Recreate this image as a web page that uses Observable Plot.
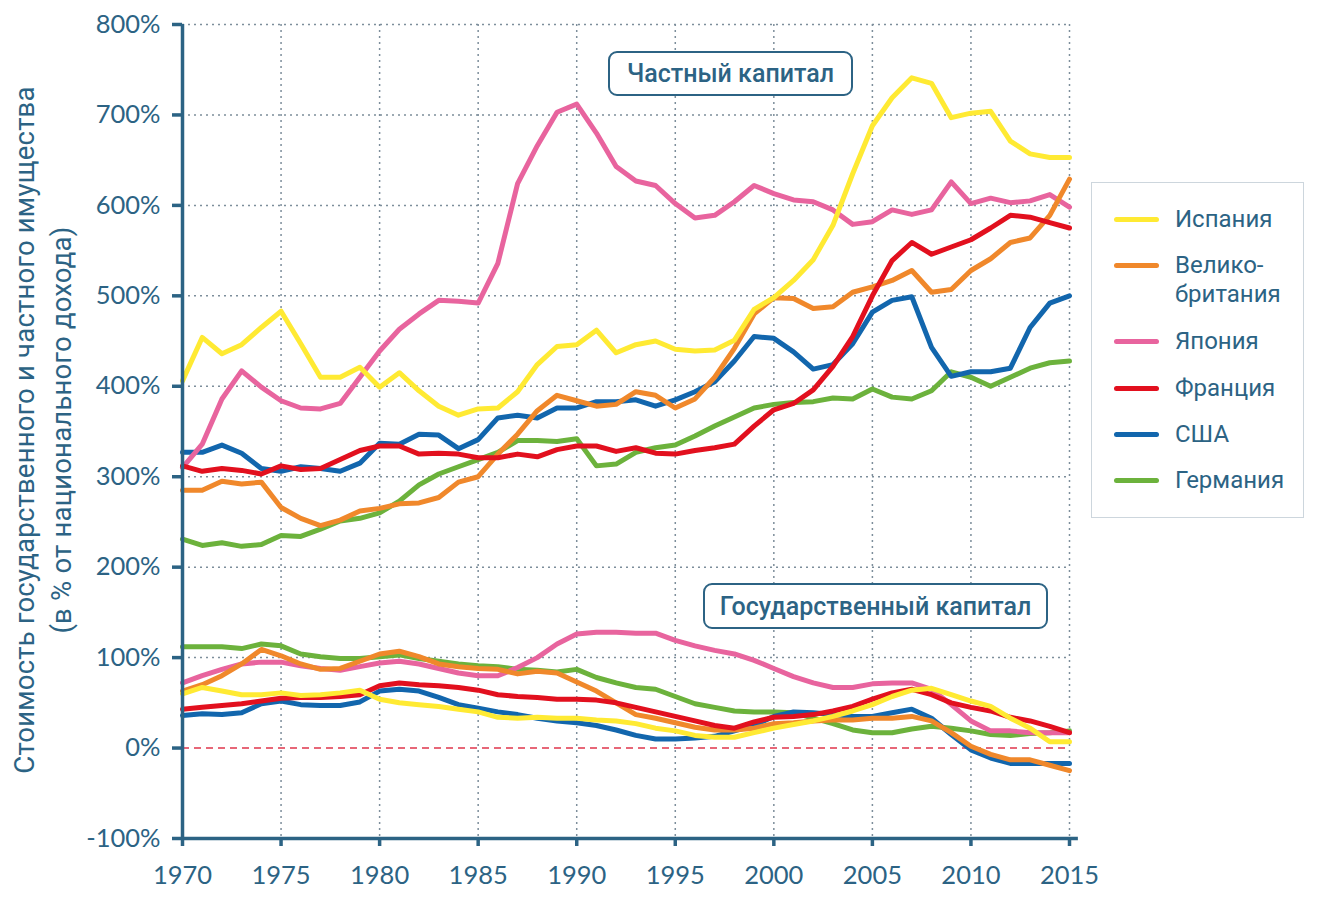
<!DOCTYPE html>
<html>
<head>
<meta charset="utf-8">
<script src="https://cdn.jsdelivr.net/npm/d3@7"></script>
<script src="https://cdn.jsdelivr.net/npm/@observablehq/plot@0.6"></script>
<style>
  html, body { margin:0; padding:0; background:#fff; }
  #wrap { position:relative; width:1326px; height:900px; overflow:hidden; }
  #chart svg { display:block; }
  .ylabel { position:absolute; left:43px; top:430px; transform:translate(-50%,-50%) rotate(-90deg);
    font-family:Roboto, "Noto Sans", sans-serif; font-size:27.5px; line-height:37px; color:#2c6384;
    text-align:center; white-space:nowrap; letter-spacing:0.2px; }
  .legend { position:absolute; left:1091px; top:182px; width:213px; height:336px; border:1.5px solid #cdd6dd;
    background:#fff; box-sizing:border-box; font-family:Roboto, "Noto Sans", sans-serif; font-size:24px; color:#2c6384; }
  .item { position:absolute; left:0; width:100%; }
  .sw { position:absolute; left:22px; width:45px; height:5px; border-radius:3px; }
  .lab { position:absolute; left:83px; line-height:29px; white-space:nowrap; }
  .anno { position:absolute; box-sizing:border-box; border:2px solid #2c6384; border-radius:9px; background:#fff;
    font-family:Roboto, "Noto Sans", sans-serif; font-weight:500; font-size:25px; color:#2c6384;
    display:flex; align-items:center; justify-content:center; white-space:nowrap; }
</style>
</head>
<body>
<div id="wrap">
  <div id="chart"></div>
  <div class="ylabel">Стоимость государственного и частного имущества<br>(в % от национального дохода)</div>
  <div class="legend" id="legend"></div>
  <div class="anno" style="left:608px;top:51px;width:245px;height:45px;">Частный капитал</div>
  <div class="anno" style="left:703px;top:583px;width:345px;height:46px;">Государственный капитал</div>
</div>
<script>
const years = d3.range(1970, 2016);
const countries = ["Испания", "Велико-\nбритания", "Япония", "Франция", "США", "Германия"];
const colors = ["#ffea33", "#f0882b", "#e8649e", "#e2101e", "#1266ad", "#6cb23c"];

// Private capital (% of national income), 1970–2015
const spainPrivate = [406,454,436,446,465,483,447,410,410,421, 399,415,395,378,368,375,376,394,424,444, 446,462,437,446,450,441,439,440,451,485, 498,517,540,578,635,688,719,741,735,697, 702,704,671,657,653,653];
const ukPrivate = [285,285,295,292,294,266,254,246,252,262, 265,270,271,277,294,300,325,347,373,390, 384,378,380,394,390,376,386,410,442,480, 498,497,486,488,504,510,517,528,504,507, 528,541,559,564,589,629];
const japanPrivate = [310,336,386,417,399,384,376,375,381,410, 439,463,480,495,494,492,536,624,666,703, 712,680,643,627,622,602,586,589,604,622, 613,606,604,595,579,582,595,590,595,626, 602,608,603,605,612,598];
const francePrivate = [312,306,309,307,303,312,308,309,319,329, 334,334,325,326,325,321,321,325,322,330, 334,334,328,332,326,325,329,332,336,356, 374,381,396,422,455,500,539,559,546,554, 562,575,589,587,581,575];
const usaPrivate = [327,327,335,326,309,306,311,309,306,315, 337,336,347,346,331,341,365,368,365,376, 376,383,383,385,378,385,394,405,428,455, 453,438,419,424,447,482,495,499,443,411, 416,416,420,465,492,500];
const germanyPrivate = [231,224,227,223,225,235,234,242,251,254, 260,273,291,303,311,319,327,340,340,339, 342,312,314,327,332,335,345,356,366,376, 380,382,383,387,386,397,388,386,395,416, 410,400,410,420,426,428];

// Public capital (% of national income), 1970–2015
const spainPublic = [60,67,63,59,59,61,58,59,61,64, 54,50,48,46,43,40,34,33,34,33, 33,31,30,27,22,19,14,12,12,17, 22,26,30,35,41,48,57,64,66,59, 52,46,33,22,7,7];
const ukPublic = [63,70,80,93,109,102,93,87,88,96, 104,107,101,93,90,88,87,82,85,83, 73,63,50,37,33,28,23,20,20,22, 27,28,30,31,31,33,33,35,30,17, 2,-7,-13,-13,-19,-25];
const japanPublic = [72,80,87,93,95,95,91,88,86,90, 94,96,93,88,83,80,80,89,100,115, 126,128,128,127,127,119,113,108,104,97, 88,79,72,67,67,71,72,72,65,48, 30,19,19,17,17,17];
const francePublic = [43,45,47,49,52,55,56,56,57,59, 69,72,70,69,67,64,59,57,56,54, 54,53,50,45,40,35,30,25,22,29, 34,35,37,41,46,54,61,65,59,50, 45,41,34,30,24,17];
const usaPublic = [36,38,37,39,49,52,48,47,47,51, 63,65,63,56,48,44,40,37,33,30, 28,25,20,14,10,10,11,13,19,25, 35,40,39,37,35,35,39,43,33,15, -2,-11,-17,-17,-17,-17];
const germanyPublic = [112,112,112,110,115,113,104,101,99,99, 101,103,99,96,93,91,90,87,86,84, 87,78,72,67,65,57,49,45,41,40, 40,39,33,27,20,17,17,21,24,22, 19,15,14,16,17,19];

const privateSeries = [spainPrivate, ukPrivate, japanPrivate, francePrivate, usaPrivate, germanyPrivate];
const publicSeries = [spainPublic, ukPublic, japanPublic, francePublic, usaPublic, germanyPublic];

const yTicks = d3.range(-100, 801, 100);
const xTicks = d3.range(1970, 2016, 5);
const axisColor = "#2c6384";

// drawing order (bottom to top)
const order = [5, 4, 2, 1, 3, 0];
const data = [];
for (const i of order) {
  for (const [kind, arr] of [["private", privateSeries[i]], ["public", publicSeries[i]]]) {
    years.forEach((y, j) => data.push({year: y, value: arr[j], key: i + "-" + kind, color: colors[i]}));
  }
}

const chart = Plot.plot({
  width: 1326, height: 900,
  marginLeft: 182, marginRight: 257, marginTop: 24, marginBottom: 62,
  style: {fontFamily: "Lato, sans-serif", fontSize: "25.5px", color: axisColor, background: "#fff", overflow: "visible"},
  x: {domain: [1970, 2015], ticks: xTicks, tickFormat: d => String(d), tickSize: 8, tickPadding: 19, label: null},
  y: {domain: [-100, 800], ticks: yTicks, tickFormat: d => d + "%", tickSize: 10, tickPadding: 12, label: null},
  marks: [
    Plot.ruleY(yTicks.filter(d => d > 0), {stroke: "#7d8e9b", strokeWidth: 1.5, strokeDasharray: "2,4"}),
    Plot.ruleX(xTicks.filter(d => d > 1970), {stroke: "#7d8e9b", strokeWidth: 1.5, strokeDasharray: "2,4"}),
    Plot.ruleY([0], {stroke: "#e0364c", strokeWidth: 1.5, strokeDasharray: "7,5"}),
    Plot.line(data, {x: "year", y: "value", z: "key", stroke: "color", strokeWidth: 5, strokeLinejoin: "round", strokeLinecap: "round"}),
    Plot.ruleX([1970], {stroke: axisColor, strokeWidth: 3.5}),
    Plot.ruleY([-100], {x1: 1970, x2: 2015.45, stroke: axisColor, strokeWidth: 3.5})
  ]
});
document.getElementById("chart").appendChild(chart);

// thicken tick marks
d3.select(chart).selectAll('[aria-label$="axis tick"] path, [aria-label$="axis tick"] line, .tick line')
  .attr("stroke-width", 3.5).attr("stroke", axisColor);

// legend
const legend = document.getElementById("legend");
const itemTops = [22, 68, 144, 191, 237, 283];
countries.forEach((name, i) => {
  const lines = name.split("\n");
  const item = document.createElement("div");
  item.className = "item";
  item.style.top = itemTops[i] + "px";
  const sw = document.createElement("div");
  sw.className = "sw";
  sw.style.background = colors[i];
  sw.style.top = "12px";
  const lab = document.createElement("div");
  lab.className = "lab";
  lab.innerHTML = lines.join("<br>");
  item.appendChild(sw);
  item.appendChild(lab);
  legend.appendChild(item);
});
</script>
</body>
</html>
